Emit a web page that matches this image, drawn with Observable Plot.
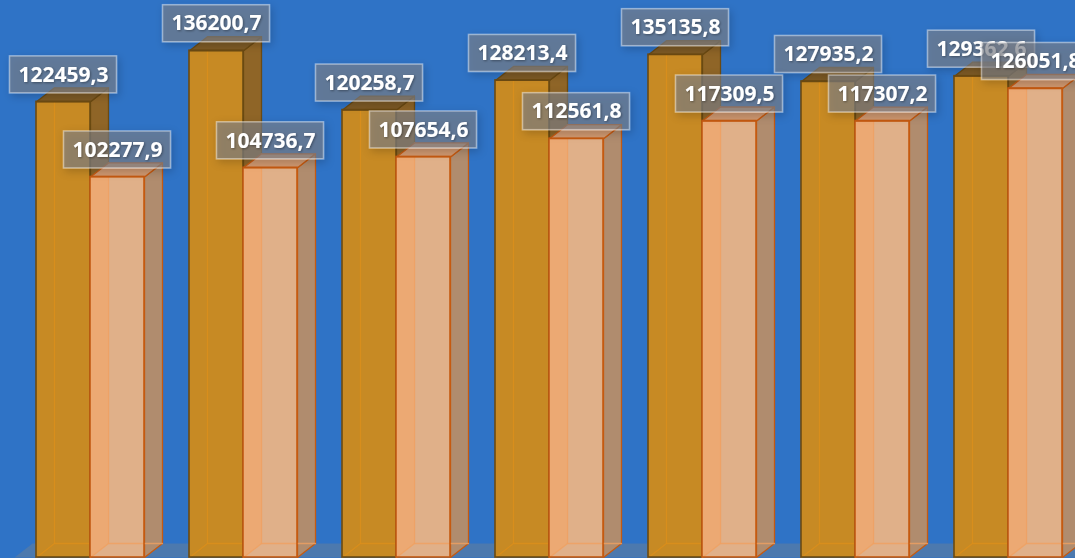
<!DOCTYPE html>
<html><head><meta charset="utf-8">
<script src="https://cdn.jsdelivr.net/npm/d3@7"></script>
<script src="https://cdn.jsdelivr.net/npm/@observablehq/plot@0.6"></script>
<style>
html,body{margin:0;padding:0;background:#2F73C6;}
#chart{width:1075px;height:558px;overflow:hidden;position:relative;}
#chart svg{display:block;}
</style></head><body><div id="chart"></div>
<script>
// ---- data ----
const groups = ["1", "2", "3", "4", "5", "6", "7"];
const seriesA = [122459.3, 136200.7, 120258.7, 128213.4, 135135.8, 127935.2, 129362.6];
const seriesB = [102277.9, 104736.7, 107654.6, 112561.8, 117309.5, 117307.2, 126051.8];
const formatValue = v => v.toFixed(1).replace(".", ",");

// ---- scale setup ----
const xDomain = [0, 7], xRange = [36, 36 + 153 * 7];
const yDomain = [0, 149700], yRange = [557, 0];
const ux = (xDomain[1] - xDomain[0]) / (xRange[1] - xRange[0]); // data units per px
const uy = (yDomain[1] - yDomain[0]) / (yRange[0] - yRange[1]);
const W = 54 * ux, DX = 18 * ux, DY = 14 * uy; // bar width and 3D depth

function makeBars(values, s) {
  return values.map((v, i) => {
    const xl = i + s * W;
    return {group: groups[i], i, s, v, xl, xr: xl + W, xc: xl + W / 2, label: formatValue(v)};
  });
}
const barsA = makeBars(seriesA, 0);
const barsB = makeBars(seriesB, 1);

function polys(list, f) {
  const out = [];
  list.forEach((b, k) => {
    f(b).forEach((pl, j) => pl.forEach(([x, y]) => out.push({x, y, id: k * 10 + j})));
  });
  return out;
}
const sideFace = b => [[[b.xr, b.v], [b.xr + DX, b.v + DY], [b.xr + DX, DY], [b.xr, 0], [b.xr, b.v]]];
const topFace = b => [[[b.xl, b.v], [b.xl + DX, b.v + DY], [b.xr + DX, b.v + DY], [b.xr, b.v], [b.xl, b.v]]];
const leftFace = b => [[[b.xl, b.v], [b.xl + DX, b.v + DY], [b.xl + DX, DY], [b.xl, 0], [b.xl, b.v]]];
const innerEdges = b => [
  [[b.xl + DX, b.v + DY], [b.xl + DX, DY], [b.xr + DX, DY]],
  [[b.xl, 0], [b.xl + DX, DY]]
];
const floorLeft = -22 * ux;
const floor = [[floorLeft, 0], [7.2, 0], [7.2 + DX, DY], [floorLeft + DX, DY], [floorLeft, 0]].map(([x, y]) => ({x, y}));

function barMarks(list, c) {
  const marks = [
    Plot.line(polys(list, sideFace), {x: "x", y: "y", z: "id", fill: c.side, stroke: c.edge, strokeWidth: 1.3}),
    Plot.rect(list, {x1: "xl", x2: "xr", y1: 0, y2: "v", fill: c.front}),
  ];
  if (c.left) marks.push(Plot.line(polys(list, leftFace), {x: "x", y: "y", z: "id", fill: c.left, fillOpacity: 0.55, stroke: "none"}));
  marks.push(
    Plot.line(polys(list, innerEdges), {x: "x", y: "y", z: "id", stroke: c.inner, strokeWidth: 1.3, strokeOpacity: 0.8}),
    Plot.line(polys(list, topFace), {x: "x", y: "y", z: "id", fill: c.top, stroke: c.edge, strokeWidth: 1.3}),
    Plot.rect(list, {x1: "xl", x2: "xr", y1: 0, y2: "v", fill: "none", stroke: c.edge, strokeWidth: 1.6})
  );
  return marks;
}

function labelMarks(list) {
  return [
    Plot.rect(list, {x1: "xc", x2: "xc", y1: "v", y2: "v", dy: -27,
      insetLeft: -53.5, insetRight: -53.5, insetTop: -18.5, insetBottom: -18.5,
      fill: "#7c8088", fillOpacity: 0.62, stroke: "#ffffff", strokeOpacity: 0.45, strokeWidth: 1.5,
      ariaDescription: "label-box"}),
    Plot.text(list, {x: "xc", y: "v", dy: -27, text: "label", fill: "white",
      fontSize: 21, fontWeight: "bold", fontFamily: "'Open Sans', Lato, sans-serif", textAnchor: "middle", lineAnchor: "middle",
      ariaDescription: "label-text"})
  ];
}

const chart = Plot.plot({
  width: 1075,
  height: 558,
  marginTop: 0, marginRight: 0, marginBottom: 0, marginLeft: 0,
  style: {background: "#2F73C6", overflow: "hidden"},
  x: {type: "linear", domain: xDomain, range: xRange, axis: null},
  y: {type: "linear", domain: yDomain, range: yRange, axis: null},
  marks: [
    Plot.line(floor, {x: "x", y: "y", fill: "#4C79AE", stroke: "none"}),
    ...barMarks(barsA, {front: "#C78A24", side: "#8F6527", top: "#7D5A25", edge: "#6B4A12", inner: "#DC8E1A"}),
    ...barMarks(barsB, {front: "#E0B089", side: "#B08C6E", top: "#CF9870", edge: "#C55A11", inner: "#F0A060", left: "#F6A460"}),
    ...labelMarks(barsA),
    ...labelMarks(barsB)
  ]
});

// soft shadows behind label boxes and texts
const svg = d3.select(chart);
const defs = svg.insert("defs", ":first-child");
const f = defs.append("filter").attr("id", "lblShadow").attr("x", "-30%").attr("y", "-40%").attr("width", "160%").attr("height", "180%");
f.append("feDropShadow").attr("dx", 2).attr("dy", 3).attr("stdDeviation", 4).attr("flood-color", "#000").attr("flood-opacity", 0.3);
const t = defs.append("filter").attr("id", "txtShadow").attr("x", "-10%").attr("y", "-30%").attr("width", "120%").attr("height", "160%");
t.append("feDropShadow").attr("dx", 1).attr("dy", 1).attr("stdDeviation", 1).attr("flood-color", "#000").attr("flood-opacity", 0.35);
svg.selectAll("g[aria-description='label-box']").attr("filter", "url(#lblShadow)");
svg.selectAll("g[aria-description='label-text']").attr("filter", "url(#txtShadow)");

document.getElementById("chart").appendChild(chart);
</script>
</body></html>
